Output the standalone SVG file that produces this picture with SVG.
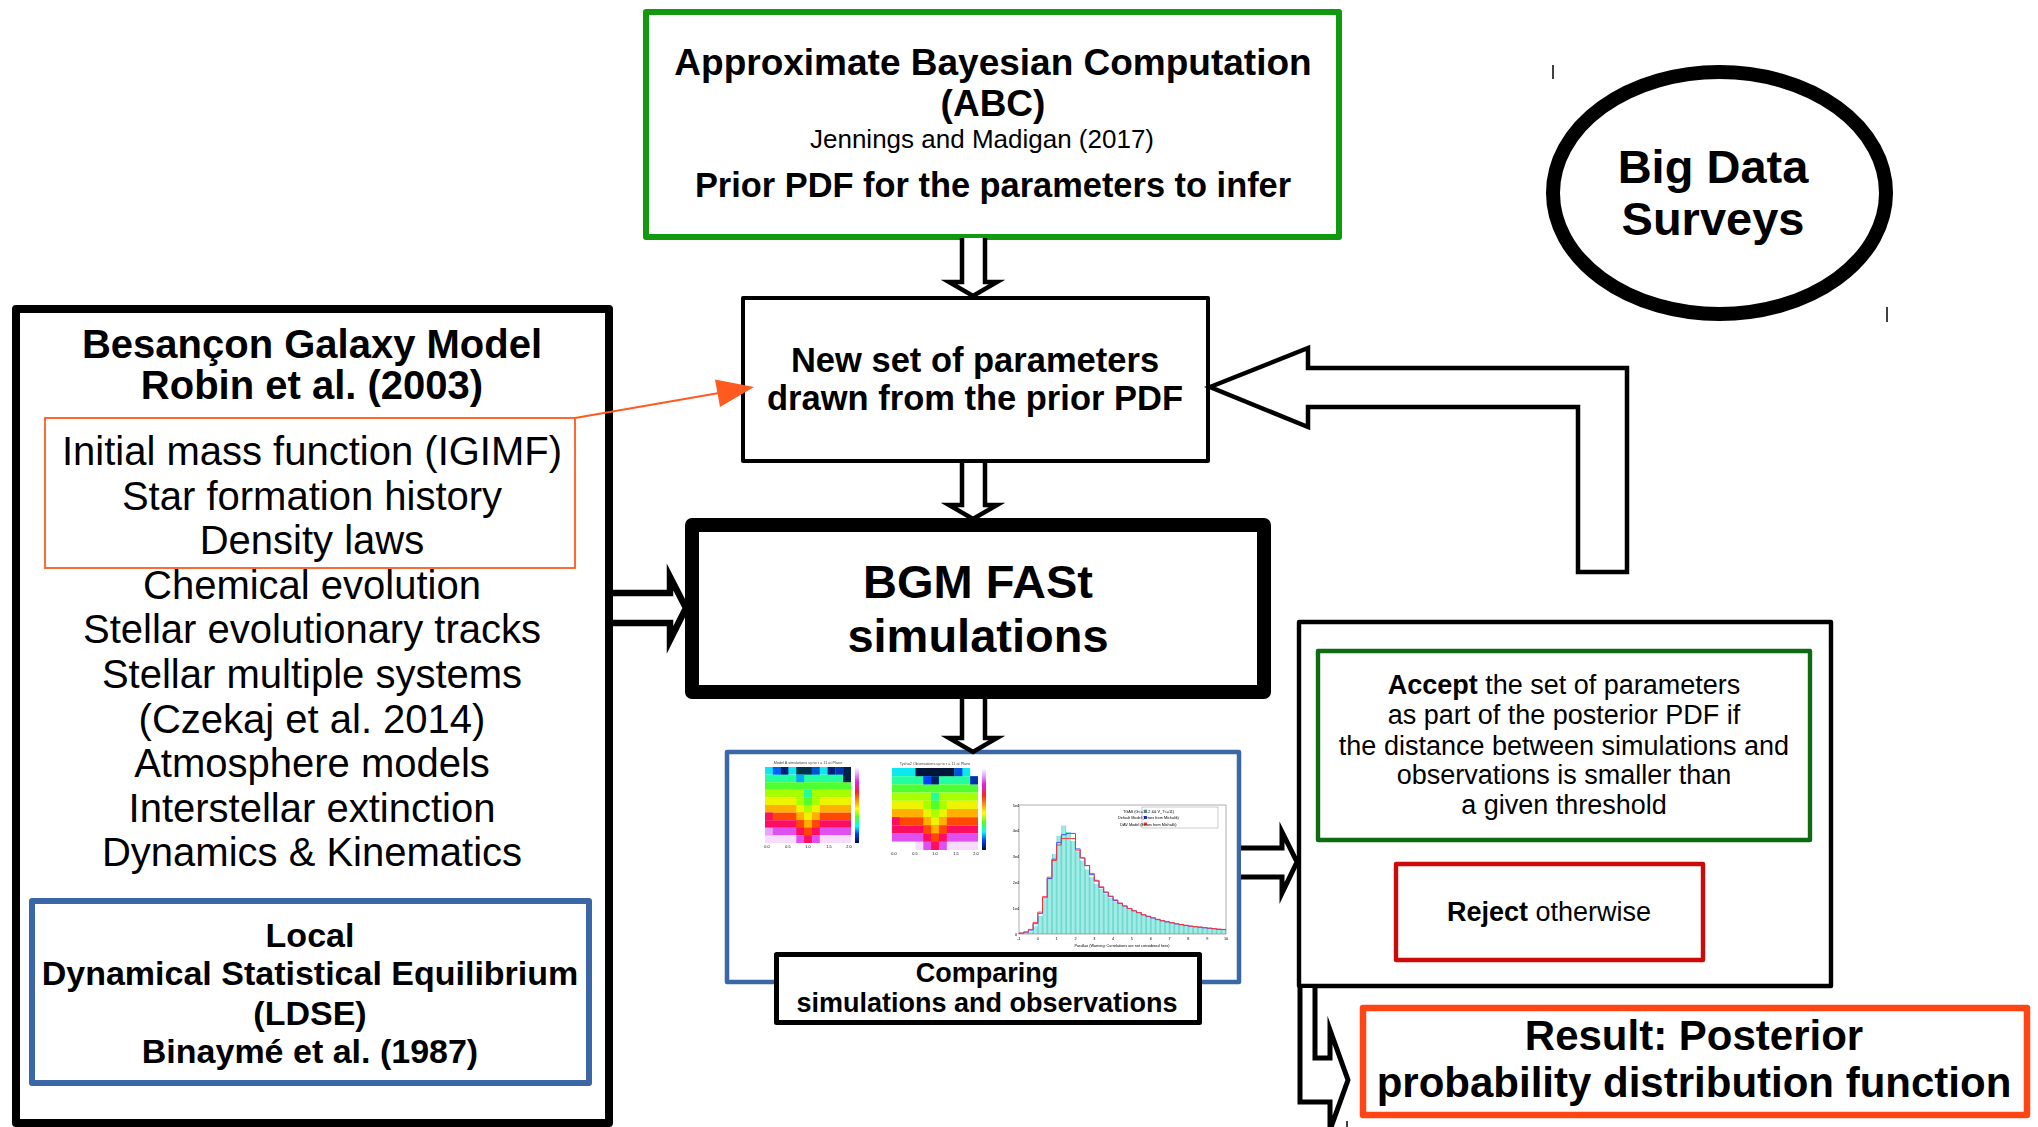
<svg xmlns="http://www.w3.org/2000/svg" width="2038" height="1127" viewBox="0 0 2038 1127">
<style>
  text { font-family: "Liberation Sans", Arial, "DejaVu Sans", sans-serif; fill: #000; text-anchor: middle; }
  .b { font-weight: bold; }
  .box { fill: #fff; stroke: #000; stroke-linejoin: round; }
  .hollow { fill: #fff; stroke: #000; stroke-linejoin: miter; stroke-miterlimit: 10; }
  .tiny { font-size: 3.8px; fill: #444; }
  .tick { stroke: #000; stroke-width: 1.5; }
</style>
<defs>
  <linearGradient id="cbar" x1="0" y1="0" x2="0" y2="1">
    <stop offset="0" stop-color="#ffffff"/>
    <stop offset="0.08" stop-color="#f0b0ff"/>
    <stop offset="0.2" stop-color="#e020e0"/>
    <stop offset="0.33" stop-color="#ff2020"/>
    <stop offset="0.45" stop-color="#ff9900"/>
    <stop offset="0.55" stop-color="#ffff00"/>
    <stop offset="0.66" stop-color="#50ff20"/>
    <stop offset="0.78" stop-color="#00ffff"/>
    <stop offset="0.88" stop-color="#0040ff"/>
    <stop offset="1" stop-color="#001030"/>
  </linearGradient>
  <pattern id="bars" patternUnits="userSpaceOnUse" x="1019" y="0" width="4.705" height="10">
    <rect x="0" y="0" width="4.705" height="10" fill="#5cc9c2"/>
    <rect x="0.6" y="0" width="3.6" height="10" fill="#9eeee6"/>
  </pattern>
  <filter id="soft" x="-5%" y="-5%" width="110%" height="110%">
    <feGaussianBlur stdDeviation="0.55"/>
  </filter>
</defs>

<rect width="2038" height="1127" fill="#fff"/>

<!-- ABC prior box -->
<g id="abc">
  <rect class="box" x="646" y="12" width="693" height="225" style="stroke:#11990f;stroke-width:6"/>
  <text class="b" x="993" y="75" font-size="37">Approximate Bayesian Computation</text>
  <text class="b" x="993" y="116" font-size="37">(ABC)</text>
  <text x="982" y="148" font-size="26">Jennings and Madigan (2017)</text>
  <text class="b" x="993" y="197" font-size="34.4">Prior PDF for the parameters to infer</text>
</g>

<!-- Big Data Surveys -->
<g id="surveys">
  <ellipse cx="1719.5" cy="193" rx="166.5" ry="121" fill="#fff" stroke="#000" stroke-width="14"/>
  <text class="b" x="1713" y="183" font-size="47">Big Data</text>
  <text class="b" x="1713" y="235" font-size="47">Surveys</text>
  <line class="tick" x1="1553" y1="65" x2="1553" y2="79"/>
  <line class="tick" x1="1887" y1="307" x2="1887" y2="322"/>
</g>

<!-- Parameter draw box -->
<g id="draw">
  <rect class="box" x="743" y="298" width="465" height="163" stroke-width="4"/>
  <text class="b" x="975" y="372" font-size="34.5">New set of parameters</text>
  <text class="b" x="975" y="410" font-size="34.5">drawn from the prior PDF</text>
</g>

<!-- Besancon Galaxy Model -->
<g id="bgm">
  <rect class="box" x="16" y="309" width="593" height="814" stroke-width="8"/>
  <text class="b" x="312" y="358" font-size="40">Besançon Galaxy Model</text>
  <text class="b" x="312" y="399" font-size="40">Robin et al. (2003)</text>
  <rect x="45" y="418" width="530" height="150" fill="none" stroke="#ff5a1f" stroke-width="1.8"/>
  <g font-size="40">
    <text x="312" y="465">Initial mass function (IGIMF)</text>
    <text x="312" y="509.6">Star formation history</text>
    <text x="312" y="554.2">Density laws</text>
    <text x="312" y="598.8">Chemical evolution</text>
    <text x="312" y="643.4">Stellar evolutionary tracks</text>
    <text x="312" y="688">Stellar multiple systems</text>
    <text x="312" y="732.6">(Czekaj et al. 2014)</text>
    <text x="312" y="777.2">Atmosphere models</text>
    <text x="312" y="821.8">Interstellar extinction</text>
    <text x="312" y="866.4">Dynamics &amp; Kinematics</text>
  </g>
</g>

<!-- LDSE -->
<g id="ldse">
  <rect class="box" x="32" y="901" width="557" height="182" style="stroke:#3b67a6;stroke-width:6"/>
  <g class="b" font-size="34">
    <text class="b" x="310" y="947">Local</text>
    <text class="b" x="310" y="985">Dynamical Statistical Equilibrium</text>
    <text class="b" x="310" y="1025">(LDSE)</text>
    <text class="b" x="310" y="1063">Binaymé et al. (1987)</text>
  </g>
</g>

<!-- BGM FASt simulations -->
<g id="fast">
  <rect class="box" x="692" y="525" width="572" height="167" stroke-width="14"/>
  <text class="b" x="978" y="598" font-size="47">BGM FASt</text>
  <text class="b" x="978" y="652" font-size="47">simulations</text>
</g>

<!-- Comparison panel with plots -->
<g id="compare">
  <rect class="box" x="727" y="752" width="512" height="230" style="stroke:#3b67a6;stroke-width:4.5"/>
  <g filter="url(#soft)">
    <!-- heatmap: model -->
    <g id="heat-model">
      <text class="tiny" x="808" y="764" font-size="3.6">Model A simulations up to r = 11 at Plane</text>
      <rect x="765" y="767" width="86" height="7.6" fill="#10e8f0"/>
      <rect x="765" y="774.6" width="86" height="7.6" fill="#20ffa0"/>
      <rect x="765" y="782.2" width="86" height="7.6" fill="#50ff30"/>
      <rect x="765" y="789.8" width="86" height="7.6" fill="#a8ff00"/>
      <rect x="765" y="797.4" width="86" height="7.6" fill="#eef400"/>
      <rect x="765" y="805" width="86" height="7.6" fill="#ffb000"/>
      <rect x="765" y="812.6" width="86" height="7.6" fill="#ff4a00"/>
      <rect x="765" y="820.2" width="86" height="7.6" fill="#ff1060"/>
      <rect x="765" y="827.8" width="86" height="7.6" fill="#e050f0"/>
      <rect x="765" y="835.4" width="86" height="7.6" fill="#f8dcff"/>
      <!-- dip -->
      <rect x="796.3" y="797.4" width="23.5" height="7.6" fill="#a8ff00"/>
      <rect x="796.3" y="805" width="23.5" height="7.6" fill="#eef400"/>
      <rect x="796.3" y="812.6" width="23.5" height="7.6" fill="#ffb000"/>
      <rect x="796.3" y="820.2" width="23.5" height="7.6" fill="#ff4a00"/>
      <rect x="796.3" y="827.8" width="23.5" height="7.6" fill="#ff1060"/>
      <rect x="796.3" y="835.4" width="23.5" height="7.6" fill="#e050f0"/>
      <rect x="804.1" y="789.8" width="7.8" height="7.6" fill="#20ffa0"/>
      <rect x="804.1" y="797.4" width="7.8" height="7.6" fill="#50ff30"/>
      <rect x="804.1" y="805" width="7.8" height="7.6" fill="#a8ff00"/>
      <rect x="804.1" y="812.6" width="7.8" height="7.6" fill="#eef400"/>
      <rect x="804.1" y="820.2" width="7.8" height="7.6" fill="#ffb000"/>
      <rect x="804.1" y="827.8" width="7.8" height="7.6" fill="#ff4a00"/>
      <rect x="804.1" y="835.4" width="7.8" height="7.6" fill="#ff1060"/>
      <rect x="765" y="812.6" width="7.8" height="7.6" fill="#ff1060"/>
      <rect x="765" y="827.8" width="7.8" height="7.6" fill="#f0a0ff"/>
      <!-- top cells -->
      <rect x="772.8" y="767" width="7.8" height="7.6" fill="#0060ff"/>
      <rect x="780.6" y="767" width="7.8" height="7.6" fill="#00207a"/>
      <rect x="796.3" y="767" width="15.6" height="7.6" fill="#00304a"/>
      <rect x="796.3" y="774.6" width="7.8" height="7.6" fill="#00a8ff"/>
      <rect x="811.9" y="767" width="7.8" height="7.6" fill="#0058d0"/>
      <rect x="827.6" y="767" width="7.8" height="7.6" fill="#00207a"/>
      <rect x="835.4" y="767" width="7.8" height="7.6" fill="#0038b0"/>
      <rect x="843.2" y="767" width="7.8" height="15.2" fill="#002048"/>
      <rect x="855" y="767" width="4" height="76" fill="url(#cbar)"/>
      <g class="tiny" font-size="3.2">
        <text x="767" y="848">0.0</text><text x="788" y="848">0.5</text><text x="808" y="848">1.0</text><text x="829" y="848">1.5</text><text x="849" y="848">2.0</text>
      </g>
    </g>
    <!-- heatmap: observations -->
    <g id="heat-obs">
      <text class="tiny" x="935" y="765" font-size="3.6">Tycho2 Observations up to r = 11 at Plane</text>
      <rect x="892" y="768" width="86" height="8.2" fill="#10e8f0"/>
      <rect x="892" y="776.2" width="86" height="8.2" fill="#20ffa0"/>
      <rect x="892" y="784.4" width="86" height="8.2" fill="#50ff30"/>
      <rect x="892" y="792.6" width="86" height="8.2" fill="#a8ff00"/>
      <rect x="892" y="800.8" width="86" height="8.2" fill="#eef400"/>
      <rect x="892" y="809" width="86" height="8.2" fill="#ffb000"/>
      <rect x="892" y="817.2" width="86" height="8.2" fill="#ff4a00"/>
      <rect x="892" y="825.4" width="86" height="8.2" fill="#ff1060"/>
      <rect x="892" y="833.6" width="86" height="8.2" fill="#e050f0"/>
      <rect x="892" y="841.8" width="86" height="8.2" fill="#f8dcff"/>
      <rect x="923.3" y="800.8" width="23.5" height="8.2" fill="#a8ff00"/>
      <rect x="923.3" y="809" width="23.5" height="8.2" fill="#eef400"/>
      <rect x="923.3" y="817.2" width="23.5" height="8.2" fill="#ffb000"/>
      <rect x="923.3" y="825.4" width="23.5" height="8.2" fill="#ff4a00"/>
      <rect x="923.3" y="833.6" width="23.5" height="8.2" fill="#ff1060"/>
      <rect x="923.3" y="841.8" width="23.5" height="8.2" fill="#e050f0"/>
      <rect x="931.1" y="792.6" width="7.8" height="8.2" fill="#20ffa0"/>
      <rect x="931.1" y="800.8" width="7.8" height="8.2" fill="#50ff30"/>
      <rect x="931.1" y="809" width="7.8" height="8.2" fill="#a8ff00"/>
      <rect x="931.1" y="817.2" width="7.8" height="8.2" fill="#eef400"/>
      <rect x="931.1" y="825.4" width="7.8" height="8.2" fill="#ffb000"/>
      <rect x="931.1" y="833.6" width="7.8" height="8.2" fill="#ff4a00"/>
      <rect x="931.1" y="841.8" width="7.8" height="8.2" fill="#ff1060"/>
      <rect x="892" y="817.2" width="7.8" height="8.2" fill="#ff1060"/>
      <rect x="892" y="841.8" width="23.5" height="8.2" fill="#ffffff"/>
      <rect x="915.5" y="768" width="39" height="8.2" fill="#001838"/>
      <rect x="923.3" y="776.2" width="7.8" height="8.2" fill="#0040ff"/>
      <rect x="931.1" y="776.2" width="7.8" height="8.2" fill="#002060"/>
      <rect x="954.6" y="768" width="7.8" height="8.2" fill="#0050e0"/>
      <rect x="970.2" y="768" width="7.8" height="8.2" fill="#ffffff"/>
      <rect x="970.2" y="776.2" width="7.8" height="8.2" fill="#0030b0"/>
      <rect x="982" y="768" width="4" height="82" fill="url(#cbar)"/>
      <g class="tiny" font-size="3.2">
        <text x="894" y="855">0.0</text><text x="915" y="855">0.5</text><text x="935" y="855">1.0</text><text x="956" y="855">1.5</text><text x="976" y="855">2.0</text>
      </g>
    </g>
    <!-- parallax histogram -->
    <g id="hist">
      <path fill="url(#bars)" d="M1019,934 V933.5 H1023.7 V932.7 H1028.4 V931.4 H1033.1 V926.3 H1037.8 V915.9 H1042.5 V899.2 H1047.2 V878.5 H1051.9 V854 H1056.6 V836 H1061.3 V825.6 H1066.1 V832.1 H1070.8 V841.1 H1075.5 V851.4 H1080.2 V860.5 H1084.9 V869.5 H1089.6 V877.2 H1094.3 V883.7 H1099 V888.9 H1103.7 V894 H1108.4 V897.9 H1113.1 V901.2 H1117.8 V904.3 H1122.5 V906.9 H1127.2 V909.5 H1131.9 V911.6 H1136.6 V913.6 H1141.3 V915.4 H1146 V917 H1150.7 V918.5 H1155.4 V919.8 H1160.2 V921.1 H1164.9 V922.1 H1169.6 V923.2 H1174.3 V924.2 H1179 V925 H1183.7 V925.7 H1188.4 V926.5 H1193.1 V927 H1197.8 V927.6 H1202.5 V928.1 H1207.2 V928.6 H1211.9 V929.1 H1216.6 V929.6 H1221.3 V929.9 H1226 V934 Z"/>
      <path fill="none" stroke="#3344ff" stroke-width="0.9" d="M1019,934 V933.2 H1023.7 V932.2 H1028.4 V930.1 H1033.1 V923.7 H1037.8 V913.4 H1042.5 V897.9 H1047.2 V878.5 H1051.9 V859.2 H1056.6 V842.4 H1061.3 V834.7 H1066.1 V833.4 H1070.8 V833.4 H1075.5 V848.9 H1080.2 V857.9 H1084.9 V865.6 H1089.6 V874.7 H1094.3 V881.1 H1099 V887.6 H1103.7 V892.7 H1108.4 V896.6 H1113.1 V900.5 H1117.8 V903.6 H1122.5 V906.1 H1127.2 V908.7 H1131.9 V910.8 H1136.6 V912.8 H1141.3 V914.9 H1146 V916.5 H1150.7 V918 H1155.4 V919.6 H1160.2 V920.8 H1164.9 V921.9 H1169.6 V922.9 H1174.3 V923.9 H1179 V924.7 H1183.7 V925.5 H1188.4 V926.3 H1193.1 V926.8 H1197.8 V927.3 H1202.5 V927.8 H1207.2 V928.3 H1211.9 V928.8 H1216.6 V929.4 H1221.3 V929.6 H1226"/>
      <path fill="none" stroke="#ff3030" stroke-width="0.9" d="M1019,934 V933 H1023.7 V931.9 H1028.4 V929.4 H1033.1 V922.4 H1037.8 V912.1 H1042.5 V896.6 H1047.2 V877.2 H1051.9 V860.5 H1056.6 V845 H1061.3 V838.5 H1066.1 V838.5 H1070.8 V838.5 H1075.5 V850.2 H1080.2 V857.9 H1084.9 V865.6 H1089.6 V873.4 H1094.3 V880.3 H1099 V886.8 H1103.7 V891.9 H1108.4 V896.1 H1113.1 V899.9 H1117.8 V903 H1122.5 V905.9 H1127.2 V908.5 H1131.9 V910.8 H1136.6 V912.6 H1141.3 V914.7 H1146 V916.2 H1150.7 V917.7 H1155.4 V919.3 H1160.2 V920.6 H1164.9 V921.6 H1169.6 V922.6 H1174.3 V923.7 H1179 V924.5 H1183.7 V925.2 H1188.4 V926 H1193.1 V926.5 H1197.8 V927 H1202.5 V927.6 H1207.2 V928.1 H1211.9 V928.6 H1216.6 V929.1 H1221.3 V929.4 H1226"/>
      <rect x="1019" y="805" width="207" height="129" fill="none" stroke="#777" stroke-width="0.6"/>
      <rect x="1142" y="807" width="76" height="21" fill="#fff" stroke="#999" stroke-width="0.5"/>
      <rect x="1144" y="809.5" width="3" height="3" fill="#5cc9c2"/>
      <rect x="1144" y="816" width="3" height="3" fill="#3344ff"/>
      <rect x="1144" y="822.5" width="3" height="3" fill="#ff3030"/>
      <g class="tiny" style="text-anchor:start">
        <text x="1148.5" y="812.5">TGAS (G&lt;=10.2 &amp;&amp; V_T&lt;=11)</text>
        <text x="1148.5" y="819">Default Model (Errors from Michalik)</text>
        <text x="1148.5" y="825.5">DAV Model (Errors from Michalik)</text>
      </g>
      <g class="tiny" style="text-anchor:end">
        <text x="1016" y="807">5e4</text><text x="1016" y="832">4e4</text><text x="1016" y="858">3e4</text><text x="1016" y="884">2e4</text><text x="1016" y="910">1e4</text><text x="1016" y="936">0</text>
      </g>
      <g class="tiny">
        <text x="1019" y="939.5">-1</text><text x="1037.8" y="939.5">0</text><text x="1056.6" y="939.5">1</text><text x="1075.5" y="939.5">2</text><text x="1094.3" y="939.5">3</text><text x="1113.1" y="939.5">4</text><text x="1131.9" y="939.5">5</text><text x="1150.7" y="939.5">6</text><text x="1169.6" y="939.5">7</text><text x="1188.4" y="939.5">8</text><text x="1207.2" y="939.5">9</text><text x="1226" y="939.5">10</text>
        <text x="1122" y="947">Parallax (Warning: Correlations are not considered here)</text>
      </g>
    </g>
  </g>
  <rect class="box" x="776.5" y="954.5" width="423" height="68" stroke-width="5"/>
  <text class="b" x="987" y="982" font-size="27">Comparing</text>
  <text class="b" x="987" y="1012" font-size="27">simulations and observations</text>
</g>

<!-- Accept / reject decision -->
<g id="decision">
  <rect class="box" x="1299" y="622" width="532" height="364" stroke-width="4.4"/>
  <g id="accept">
    <rect class="box" x="1318" y="651" width="492" height="189" style="stroke:#0f6b12;stroke-width:4.4"/>
    <g font-size="27">
      <text x="1564" y="694"><tspan class="b">Accept</tspan> the set of parameters</text>
      <text x="1564" y="724">as part of the posterior PDF if</text>
      <text x="1564" y="755">the distance between simulations and</text>
      <text x="1564" y="784">observations is smaller than</text>
      <text x="1564" y="814">a given threshold</text>
    </g>
  </g>
  <g id="reject">
    <rect class="box" x="1396" y="864" width="307" height="96" style="stroke:#cc0a0a;stroke-width:4.4"/>
    <text x="1549" y="921" font-size="27"><tspan class="b">Reject</tspan> otherwise</text>
  </g>
</g>

<!-- Posterior result -->
<g id="result">
  <rect class="box" x="1363" y="1008" width="664" height="107" style="stroke:#ff4514;stroke-width:6.5"/>
  <text class="b" x="1694" y="1050" font-size="42">Result: Posterior</text>
  <text class="b" x="1694" y="1097" font-size="42">probability distribution function</text>
</g>

<!-- Connectors -->
<g id="connectors">
  <path class="hollow" stroke-width="4.5" d="M962,238 V282 H949 L973,296 L997,282 H985 V238"/>
  <path class="hollow" stroke-width="4.5" d="M962,463 V505 H949 L973,519 L997,505 H985 V463"/>
  <path class="hollow" stroke-width="4.5" d="M962,699 V738 H949 L973,752 L997,738 H985 V699"/>
  <path class="hollow" stroke-width="6.5" d="M613,593 H670 V577 L686,608 L670,640 V623 H613"/>
  <path class="hollow" stroke-width="5" d="M1241,848 H1282 V832 L1297,862 L1282,893 V877 H1241"/>
  <path class="hollow" stroke-width="4.5" d="M1210,387 L1308,348 V368 H1627 V572 H1578 V407 H1308 V427 Z"/>
  <path class="hollow" stroke-width="5" d="M1300,988 V1102 H1330 V1130 L1348,1080 L1330,1030 V1058 H1315 V988"/>
  <line x1="575" y1="418" x2="722" y2="392.6" stroke="#ff5a1f" stroke-width="2"/>
  <polygon points="754,387 720,407 715,379.5" fill="#ff5a1f"/>
  <line class="tick" x1="1347" y1="1121" x2="1347" y2="1127"/>
</g>
</svg>
